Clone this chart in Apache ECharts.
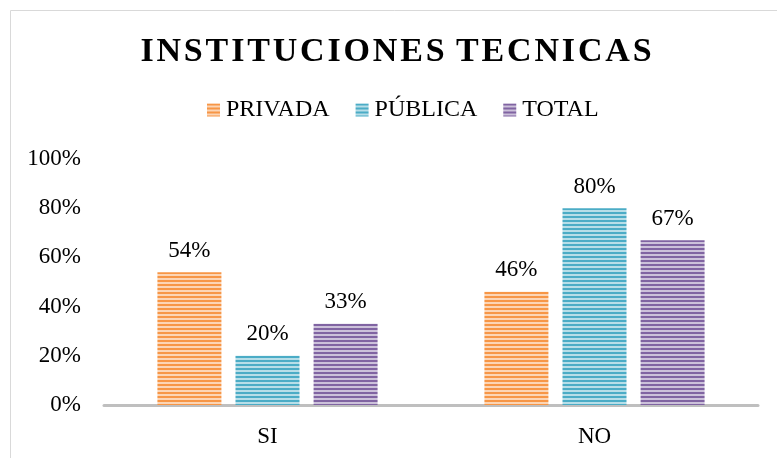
<!DOCTYPE html>
<html><head><meta charset="utf-8">
<script src="https://cdn.jsdelivr.net/npm/echarts@6/dist/echarts.min.js"></script>
<style>html,body{margin:0;padding:0;background:#fff}#c{width:777px;height:458px}</style>
</head><body><div id="c"></div>
<script>
const categories = ['SI', 'NO'];
const seriesNames = ['PRIVADA', 'PÚBLICA', 'TOTAL'];
const privada = [0.54, 0.46];
const publica = [0.20, 0.80];
const total = [0.33, 0.67];
const yTicks = [0, 0.2, 0.4, 0.6, 0.8, 1.0];

function stripe(dark, light) {
  const c = document.createElement('canvas');
  c.width = 4; c.height = 4;
  const g = c.getContext('2d');
  g.fillStyle = dark; g.fillRect(0, 0, 4, 2);
  g.fillStyle = light; g.fillRect(0, 2, 4, 2);
  return { image: c, repeat: 'repeat' };
}
const colors = [
  stripe('#F79646', '#FCD5B5'),
  stripe('#4BACC6', '#B7DEE8'),
  stripe('#8064A2', '#CCC1DA')
];
const FONT = '"Liberation Serif", "Times New Roman", serif';
const chart = echarts.init(document.getElementById('c'));
const values = [privada, publica, total];
chart.setOption({
  animation: false,
  textStyle: { fontFamily: FONT },
  graphic: [{ type: 'rect', shape: { x: 10.5, y: 10.5, width: 900, height: 600 }, style: { fill: 'none', stroke: '#D9D9D9', lineWidth: 1 }, silent: true }],
  title: {
    text: 'I\u200AN\u200AS\u200AT\u200AI\u200AT\u200AU\u200AC\u200AI\u200AO\u200AN\u200AE\u200AS\u200A T\u200AE\u200AC\u200AN\u200AI\u200AC\u200AA\u200AS',
    left: 391, textAlign: 'center', top: 30,
    textStyle: { fontFamily: FONT, fontSize: 34, fontWeight: 'bold', color: '#000' }
  },
  legend: {
    data: seriesNames, top: 93, left: 202,
    itemWidth: 13, itemHeight: 13, itemGap: 26,
    icon: 'rect',
    textStyle: { fontFamily: FONT, fontSize: 24, color: '#000', padding: [0, 0, 0, 1] }
  },
  grid: { left: 104, right: 19, top: 159, bottom: 53, containLabel: false },
  xAxis: {
    type: 'category', data: categories,
    axisLine: { lineStyle: { color: '#BFBFBF', width: 3 } },
    axisTick: { show: false },
    axisLabel: { fontFamily: FONT, fontSize: 23, color: '#000', margin: 20 }
  },
  yAxis: {
    type: 'value', min: 0, max: 1, interval: 0.2,
    axisLine: { show: false }, axisTick: { show: false }, splitLine: { show: false },
    axisLabel: { fontFamily: FONT, fontSize: 23, color: '#000', margin: 23,
      formatter: v => Math.round(v * 100) + '%' }
  },
  series: seriesNames.map((n, i) => ({
    name: n, type: 'bar', data: values[i],
    barWidth: 64, barGap: '22%',
    itemStyle: { color: colors[i] },
    label: { show: true, position: 'top', distance: 10, fontFamily: FONT, fontSize: 23, color: '#000',
      formatter: p => Math.round(p.value * 100) + '%' }
  }))
});
</script></body></html>
